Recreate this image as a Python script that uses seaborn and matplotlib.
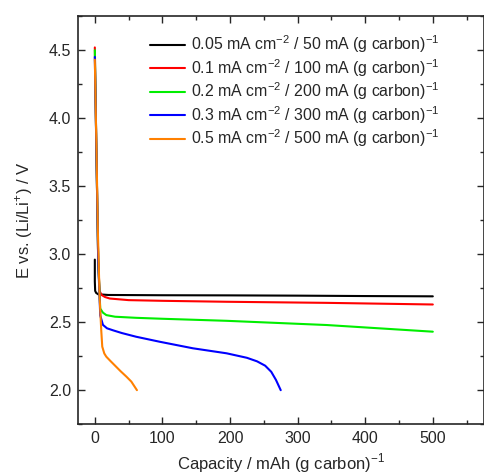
import numpy as np
import pandas as pd
import matplotlib
matplotlib.use("Agg")
import matplotlib.pyplot as plt
from matplotlib.ticker import MultipleLocator
import seaborn as sns

# --- Discharge curves ---
labels = [
    "0.05 mA cm$^{-2}$ / 50 mA (g carbon)$^{-1}$",
    "0.1 mA cm$^{-2}$ / 100 mA (g carbon)$^{-1}$",
    "0.2 mA cm$^{-2}$ / 200 mA (g carbon)$^{-1}$",
    "0.3 mA cm$^{-2}$ / 300 mA (g carbon)$^{-1}$",
    "0.5 mA cm$^{-2}$ / 500 mA (g carbon)$^{-1}$",
]
colors = ["#000000", "#ff0000", "#00ee00", "#0000ff", "#ff8000"]

cap_50 = [0, 0, 0.5, 2, 5, 20, 100, 200, 300, 400, 500]
v_50 = [2.96, 2.80, 2.73, 2.715, 2.705, 2.700, 2.698, 2.697, 2.695, 2.692, 2.690]

cap_100 = [0, 2.5, 5, 7, 10, 15, 22, 50, 100, 195, 343, 500]
v_100 = [4.52, 3.70, 2.95, 2.73, 2.70, 2.685, 2.674, 2.662, 2.657, 2.650, 2.642, 2.630]

cap_200 = [0, 2.5, 5, 8, 12, 17, 30, 61, 100, 195, 343, 500]
v_200 = [4.50, 3.70, 2.95, 2.60, 2.57, 2.552, 2.540, 2.532, 2.525, 2.510, 2.479, 2.430]

cap_300 = [0, 2.5, 5, 8, 12, 18, 27, 40, 61, 96, 145, 195, 225, 240, 252, 261, 268, 275]
v_300 = [4.45, 3.70, 2.95, 2.55, 2.48, 2.455, 2.440, 2.42, 2.393, 2.356, 2.308, 2.271, 2.238, 2.212,
         2.180, 2.135, 2.075, 2.000]

cap_500 = [0, 2.5, 4.5, 7, 9.5, 11, 14, 17, 23, 29, 38, 46.6, 54, 62.3]
v_500 = [4.43, 3.75, 3.17, 2.69, 2.44, 2.32, 2.27, 2.246, 2.215, 2.185, 2.14, 2.10, 2.063, 2.000]

caps = [cap_50, cap_100, cap_200, cap_300, cap_500]
volts = [v_50, v_100, v_200, v_300, v_500]

frames = []
for lab, c, v in zip(labels, caps, volts):
    frames.append(pd.DataFrame({"capacity": c, "E": v, "rate": lab}))
df = pd.concat(frames, ignore_index=True)

# --- Plot ---
sns.set_style("ticks")
plt.rcParams["font.family"] = ["Liberation Sans", "DejaVu Sans"]
plt.rcParams["mathtext.fontset"] = "custom"
plt.rcParams["mathtext.rm"] = "Liberation Sans"

fig = plt.figure(figsize=(4.84, 4.75), dpi=100)
ax = fig.add_axes([0.161, 0.107, 0.838, 0.859])

sns.lineplot(data=df, x="capacity", y="E", hue="rate", palette=colors,
             sort=False, estimator=None, linewidth=1.5, ax=ax)

ax.set_xlim(-25, 575)
ax.set_ylim(1.75, 4.75)
ax.xaxis.set_major_locator(MultipleLocator(100))
ax.xaxis.set_minor_locator(MultipleLocator(50))
ax.yaxis.set_major_locator(MultipleLocator(0.5))
ax.yaxis.set_minor_locator(MultipleLocator(0.25))
ax.tick_params(which="both", direction="in", top=True, right=True, labelsize=11.5)
ax.tick_params(which="major", length=5, width=1, pad=5)
ax.tick_params(which="minor", length=3, width=1)
for sp in ax.spines.values():
    sp.set_linewidth(1.2)

ax.set_xlabel("Capacity / mAh (g carbon)$^{-1}$", fontsize=12, labelpad=4)
ax.set_ylabel("E vs. (Li/Li$^{+}$) / V", fontsize=12, labelpad=10)

ax.legend(title=None, frameon=False, loc="upper left", bbox_to_anchor=(0.15, 0.985),
          fontsize=11.4, handlelength=2.2, handletextpad=0.4, labelspacing=0.12,
          borderaxespad=0.3)

fig.savefig("out.png", dpi=100)
